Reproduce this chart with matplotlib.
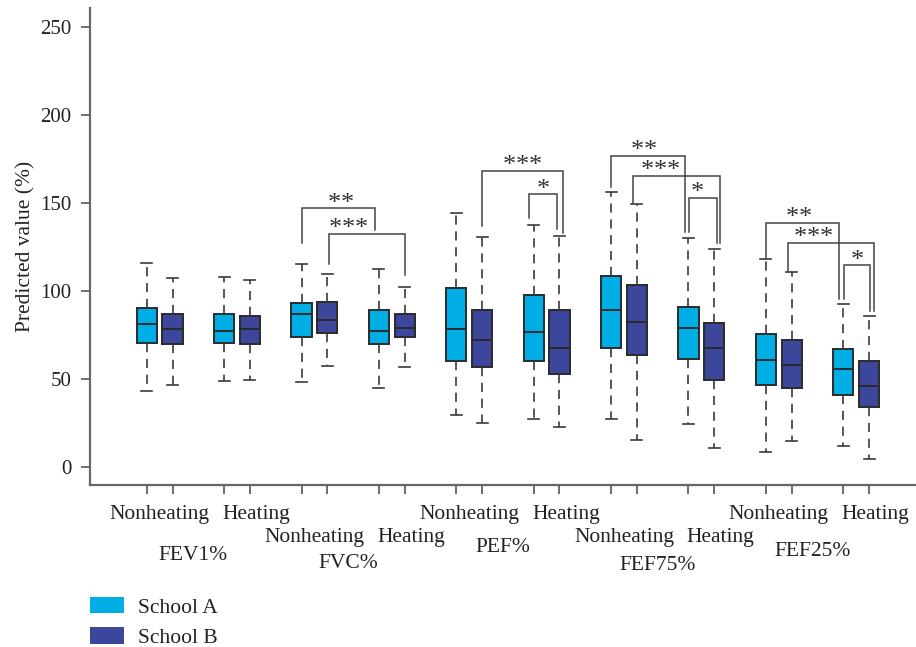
import numpy as np
import matplotlib.pyplot as plt
from matplotlib.patches import Patch
from matplotlib.transforms import blended_transform_factory

plt.rcParams['font.family'] = ['Liberation Serif', 'DejaVu Serif']

metrics = ["FEV1%", "FVC%", "PEF%", "FEF75%", "FEF25%"]
periods = ["Nonheating", "Heating"]
schools = ["School A", "School B"]

# box stats, order: FEV1 NH, FEV1 H, FVC NH, FVC H, PEF NH, ...
a_low = [43.2, 48.9, 47.9, 44.9, 29.5, 27.3, 27.3, 24.4, 8.4, 11.6]
a_q1 = [70.5, 70.5, 73.9, 69.5, 59.9, 59.9, 67.4, 61.0, 46.6, 40.7]
a_med = [80.9, 77.1, 86.6, 77.1, 78.1, 76.7, 89.0, 78.8, 60.6, 55.3]
a_q3 = [90.0, 86.6, 93.2, 89.0, 101.5, 97.6, 108.4, 90.9, 75.6, 67.0]
a_high = [115.6, 107.6, 115.2, 112.2, 144.3, 137.3, 156.3, 130.1, 117.8, 92.3]

b_low = [46.4, 49.3, 57.4, 56.5, 24.7, 22.7, 15.2, 10.4, 14.8, 4.5]
b_q1 = [69.5, 69.5, 76.1, 73.7, 56.8, 52.5, 63.5, 49.4, 44.7, 34.1]
b_med = [78.1, 78.2, 83.2, 79.0, 72.2, 67.4, 82.4, 67.4, 57.8, 46.0]
b_q3 = [86.6, 85.8, 93.8, 86.6, 89.0, 88.9, 103.4, 81.5, 72.0, 60.2]
b_high = [107.0, 106.1, 109.7, 102.3, 130.5, 130.9, 149.1, 123.9, 110.8, 85.8]

# significance brackets: (box from, box to, n stars, bracket top, left leg end, right leg end)
# boxes numbered 0..19 left to right
sig_pairs = [
    (4, 6, 2, 146.8, 126.9, 134.5),
    (5, 7, 3, 132.4, 115.0, 108.9),
    (9, 11, 3, 168.0, 136.8, 133.0),
    (10, 11, 1, 154.8, 141.1, 134.9),
    (12, 14, 2, 176.7, 159.0, 133.5),
    (13, 15, 3, 165.4, 149.7, 126.9),
    (14, 15, 1, 152.7, 133.5, 126.9),
    (16, 18, 2, 138.5, 117.8, 95.3),
    (17, 19, 3, 127.3, 111.2, 88.6),
    (18, 19, 1, 114.4, 95.3, 88.6),
]
# small sideways nudges of bracket legs / star labels (x units)
leg_dx = [(0, -0.17), (0.06, 0), (0, 0.15), (-0.17, -0.08), (0, -0.14),
          (-0.14, 0.23), (0.03, 0.09), (0, -0.15), (-0.15, 0.21), (0.02, 0.05)]
star_dx = [0.1, -0.7, 0, 0, -0.15, -0.65, -0.2, -0.15, -0.7, 0]

col_a = "#00AEE6"
col_b = "#3C469B"
edge = "#2b2b2b"

fig = plt.figure(figsize=(9.16, 6.47), dpi=100)
ax = fig.add_axes([90 / 916, 1 - 485 / 647, 826 / 916, 477 / 647])

def box_x(n):
    return 3 * (n // 2) + n % 2

stats, pos, cols = [], [], []
for g in range(10):
    for s, (lo, q1, md, q3, hi) in enumerate([(a_low, a_q1, a_med, a_q3, a_high),
                                                (b_low, b_q1, b_med, b_q3, b_high)]):
        stats.append(dict(whislo=lo[g], q1=q1[g], med=md[g], q3=q3[g], whishi=hi[g], fliers=[]))
        pos.append(box_x(2 * g + s))
        cols.append(col_a if s == 0 else col_b)

bp = ax.bxp(stats, positions=pos, widths=0.78, capwidths=0.43, patch_artist=True,
            showfliers=False,
            boxprops=dict(edgecolor=edge, linewidth=1.4),
            medianprops=dict(color=edge, linewidth=1.4),
            whiskerprops=dict(color="#3a3a3a", linewidth=1.2, linestyle=(0, (5.5, 4))),
            capprops=dict(color="#3a3a3a", linewidth=1.2))
for patch, c in zip(bp["boxes"], cols):
    patch.set_facecolor(c)

# significance brackets
for (i, j, k, top, lb, rb), (dl, dr), dx in zip(sig_pairs, leg_dx, star_dx):
    xl = box_x(i) + dl
    xr = box_x(j) + dr
    ax.plot([xl, xl, xr, xr], [lb, top, top, rb], color="#444444", lw=1.1,
            solid_joinstyle="miter")
    xc = (xl + xr) / 2 + dx
    for q in range(k):
        ax.annotate("*", xy=(xc + (q - (k - 1) / 2) * 0.5, top), xytext=(0, -1),
                    textcoords="offset points", ha="center", va="baseline",
                    fontsize=19, color="#333333")

ax.set_xlim(-2.2, 29.82)
ax.set_ylim(-10.4, 260.6)
ax.set_xticks(pos)
ax.set_xticklabels([])
ax.set_yticks([0, 50, 100, 150, 200, 250])
ax.tick_params(axis="both", direction="out", length=6.3, width=1.1, color="#444444",
               labelsize=15, labelcolor="#222222", pad=7)
for side in ["top", "right"]:
    ax.spines[side].set_visible(False)
for side in ["left", "bottom"]:
    ax.spines[side].set_color("#666666")
    ax.spines[side].set_linewidth(1.6)

ax.set_ylabel("Predicted value (%)", fontsize=15.5, color="#222222")
ax.yaxis.set_label_coords(-0.066, 0.5)

# category labels under the axis, staggered like the original
trans = blended_transform_factory(ax.transData, fig.transFigure)
row_y = [1 - 519 / 647, 1 - 542 / 647]
metric_y = [560, 568, 552, 570, 556]
for m, name in enumerate(metrics):
    r = row_y[m % 2]
    ax.text(6 * m + 0.5, r, periods[0], transform=trans, ha="center", va="baseline",
            fontsize=15.5, color="#222222")
    ax.text(6 * m + 3.5 + 0.75, r, periods[1], transform=trans, ha="center", va="baseline",
            fontsize=15.5, color="#222222")
    ax.text(6 * m + 2 - 0.2, 1 - metric_y[m] / 647, name, transform=trans, ha="center",
            va="baseline", fontsize=15.5, color="#222222")

handles = [Patch(facecolor=col_a, edgecolor="none"), Patch(facecolor=col_b, edgecolor="none")]
fig.legend(handles, schools, loc="upper left", bbox_to_anchor=(90 / 916, 1 - 597 / 647),
           frameon=False, fontsize=15.5, handlelength=1.6, handleheight=0.8,
           handletextpad=0.65, labelspacing=0.45, borderpad=0, borderaxespad=0,
           labelcolor="#222222")

fig.savefig("out.png", dpi=100)
